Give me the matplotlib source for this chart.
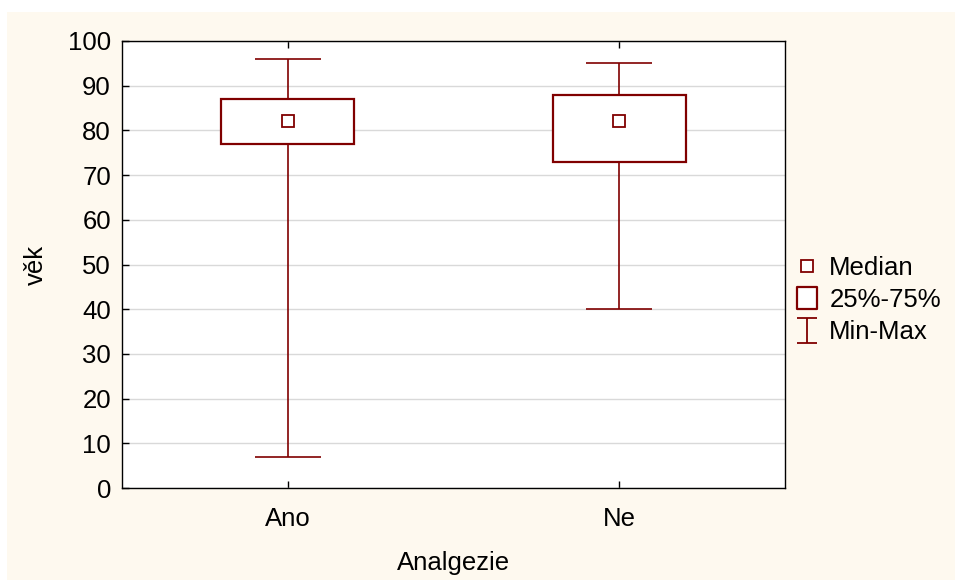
import matplotlib.pyplot as plt
import numpy as np
from matplotlib.lines import Line2D
from matplotlib.path import Path
from matplotlib.patches import Rectangle

plt.rcParams['font.family'] = ['Liberation Sans', 'DejaVu Sans']

groups = ['Ano', 'Ne']
medians = [82, 82]
q1 = [77, 73]
q3 = [87, 88]
mins = [7, 40]
maxs = [96, 95]

red = '#800000'
cream = '#fef9ef'
fs = 18.5

fig = plt.figure(figsize=(9.55, 5.8), dpi=100)
fig.patch.set_facecolor('white')
fig.patches.append(Rectangle((7 / 955, 0), 1, 1 - 12 / 580, transform=fig.transFigure,
                             facecolor=cream, edgecolor='none', zorder=-10))
ax = fig.add_axes([122 / 955, 1 - 488 / 580, 663 / 955, 447 / 580])
ax.set_facecolor('white')

x = np.arange(1, len(groups) + 1)

# whiskers and caps
ax.vlines(x, mins, q1, color=red, lw=1.2, zorder=2)
ax.vlines(x, q3, maxs, color=red, lw=1.2, zorder=2)
ax.hlines(mins, x - 0.1, x + 0.1, color=red, lw=1.2, zorder=2)
ax.hlines(maxs, x - 0.1, x + 0.1, color=red, lw=1.2, zorder=2)

# boxes
ax.bar(x, np.array(q3) - np.array(q1), bottom=q1, width=0.4,
       facecolor='white', edgecolor=red, linewidth=1.6, zorder=3)

# medians
ax.plot(x, medians, ls='none', marker='s', ms=8, mfc='white', mec=red, mew=1.3, zorder=4)

ax.set_xlim(0.5, 2.5)
ax.set_ylim(0, 100)
ax.set_yticks(np.arange(0, 101, 10))
ax.set_xticks(x)
ax.set_xticklabels(groups)
ax.tick_params(direction='in', length=5, width=1, labelsize=fs, color='black',
               top=True, right=False)
ax.tick_params(axis='x', pad=14)
ax.tick_params(axis='y', pad=8)
ax.yaxis.grid(True, color='#d9d9d9', lw=1, zorder=0)
ax.set_axisbelow(True)
for s in ax.spines.values():
    s.set_color('black')
    s.set_linewidth(1)

ax.set_ylabel('věk', fontsize=fs, labelpad=14)
ax.set_xlabel('Analgezie', fontsize=fs, labelpad=14)

ibeam = Path([(-0.4, -0.5), (0.4, -0.5), (0, -0.5), (0, 0.5), (-0.4, 0.5), (0.4, 0.5)],
             [Path.MOVETO, Path.LINETO, Path.MOVETO, Path.LINETO, Path.MOVETO, Path.LINETO])
rect = Path([(-0.43, -0.5), (0.43, -0.5), (0.43, 0.5), (-0.43, 0.5), (-0.43, -0.5)],
            [Path.MOVETO, Path.LINETO, Path.LINETO, Path.LINETO, Path.CLOSEPOLY])
handles = [
    Line2D([], [], ls='none', marker='s', ms=8, mfc='white', mec=red, mew=1.3),
    Line2D([], [], ls='none', marker=rect, ms=16.5, mfc='white', mec=red, mew=1.6),
    Line2D([], [], ls='none', marker=ibeam, ms=18, mfc='none', mec=red, mew=1.3),
]
fig.legend(handles, ['Median', '25%-75%', 'Min-Max'], loc='center left',
           bbox_to_anchor=(792 / 955, 1 - 300 / 580), frameon=False,
           fontsize=fs, handlelength=1.2, handletextpad=0.25, labelspacing=0.33,
           borderpad=0, borderaxespad=0)

fig.savefig('out.png', dpi=100, facecolor=fig.get_facecolor())
